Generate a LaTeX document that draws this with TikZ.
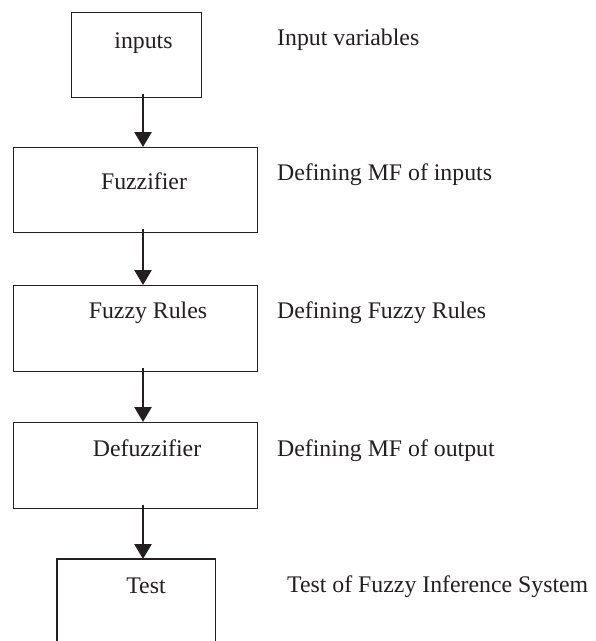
\documentclass[tikz,border=0pt]{standalone}
\usepackage{fontspec}
\setmainfont{Liberation Serif}
\usetikzlibrary{arrows.meta}
\definecolor{ink}{HTML}{231F20}
\begin{document}
\begin{tikzpicture}[x=1pt,y=-1pt,
  stagebox/.style={draw=ink,line width=1.4pt,rectangle,inner sep=0pt,anchor=north west},
  boxtext/.style={anchor=base,text=ink,font=\fontsize{23.8}{28}\selectfont,inner sep=0pt},
  note/.style={anchor=base west,text=ink,font=\fontsize{23.8}{28}\selectfont,inner sep=0pt},
  flow/.style={draw=ink,line width=2.7pt,-{Triangle[width=17pt,length=15pt]}}]
  \useasboundingbox (0,0) rectangle (596,641);
  \clip (0,0) rectangle (596,641);

  % stage boxes (corner at north west, size in px)
  \node[stagebox,minimum width=130pt,minimum height=85pt] (inp) at (71,12) {};
  \node[stagebox,minimum width=244pt,minimum height=85pt] (fuz) at (13,147) {};
  \node[stagebox,minimum width=244pt,minimum height=86pt] (rul) at (13,285) {};
  \node[stagebox,minimum width=244pt,minimum height=86pt] (def) at (13,422) {};
  % last box runs past the lower edge
  \node[anchor=north west,inner sep=0pt,minimum width=158pt,minimum height=100pt] (tst) at (57,559) {};
  \draw[ink,line width=1.4pt] (tst.south west) -- (tst.north west) -- (tst.north east) -- (tst.south east);

  % box captions
  \node[boxtext] (tinp) at (143.5,48) {inputs};
  \node[boxtext] (tfuz) at (144,189) {Fuzzifier};
  \node[boxtext] (trul) at (148,318) {Fuzzy Rules};
  \node[boxtext] (tdef) at (147,456) {Defuzzifier};
  \node[boxtext] (ttst) at (146,593) {Test};

  % side notes
  \node[note] (ninp) at (277,45) {Input variables};
  \node[note] (nfuz) at (277,180) {Defining MF of inputs};
  \node[note] (nrul) at (277,318) {Defining Fuzzy Rules};
  \node[note] (ndef) at (277,456) {Defining MF of output};
  \node[note] (ntst) at (287,592) {Test of Fuzzy Inference System};

  % connectors, each starting just inside the box above
  \coordinate (a0) at ([yshift=4pt]inp.south -| 143,0);
  \draw[flow] (a0) -- (fuz.north -| a0);
  \coordinate (a1) at ([yshift=4pt]fuz.south -| 143,0);
  \draw[flow] (a1) -- (rul.north -| a1);
  \coordinate (a2) at ([yshift=4pt]rul.south -| 143,0);
  \draw[flow] (a2) -- (def.north -| a2);
  \coordinate (a3) at ([yshift=4pt]def.south -| 143,0);
  \draw[flow] (a3) -- (tst.north -| a3);
\end{tikzpicture}
\end{document}
